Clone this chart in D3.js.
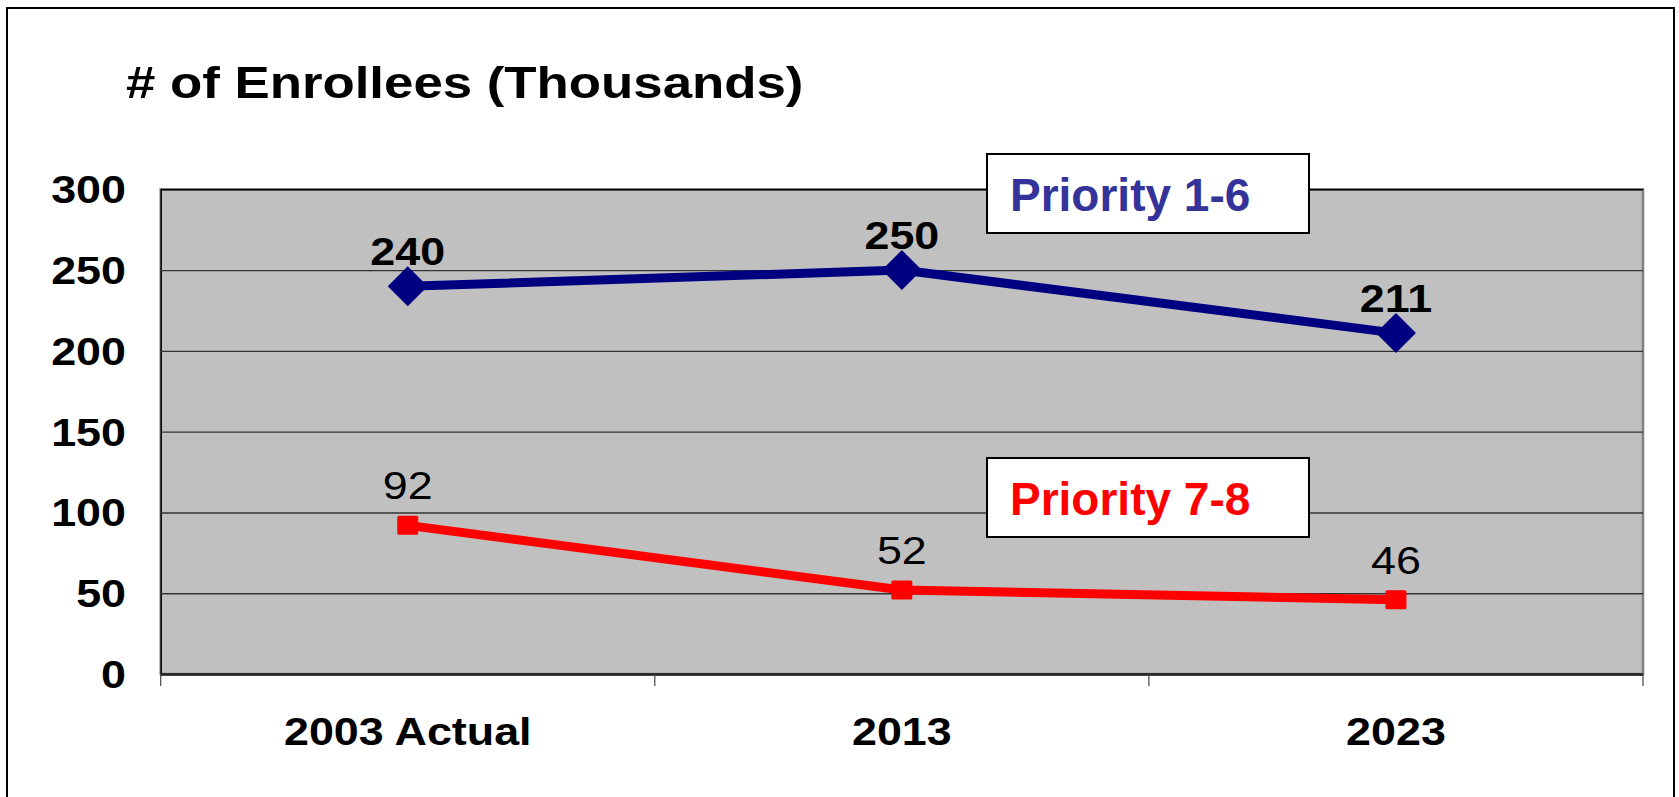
<!DOCTYPE html>
<html>
<head>
<meta charset="utf-8">
<script src="https://cdn.jsdelivr.net/npm/d3@7"></script>
<style>
  html, body { margin: 0; padding: 0; background: #fff; }
  svg { display: block; }
  text { font-family: "Liberation Sans", Arial, sans-serif; }
</style>
</head>
<body>
<div id="chart"></div>
<script>
// values (thousands of enrollees)
const categories = ["2003 Actual", "2013", "2023"];
const priority16 = [240, 250, 211];
const priority78 = [92, 52, 46];
const yTicks = [0, 50, 100, 150, 200, 250, 300];
const seriesNames = ["Priority 1-6", "Priority 7-8"];

const W = 1679, H = 797;
const plot = {left: 160.7, right: 1643, top: 189.3, bottom: 674};
const stretch = 1.15; // the original picture is stretched sideways

const svg = d3.select("#chart").append("svg")
  .attr("width", W)
  .attr("height", H);

// outer frame
svg.append("rect")
  .attr("x", 7).attr("y", 8)
  .attr("width", 1667).attr("height", 820)
  .attr("fill", "#fff")
  .attr("stroke", "#000")
  .attr("stroke-width", 2);

const x = d3.scaleBand().domain(categories).range([plot.left, plot.right]);
const y = d3.scaleLinear().domain([0, 300]).range([plot.bottom, plot.top]);
const cx = d => x(d) + x.bandwidth() / 2;

// plot area
svg.append("rect")
  .attr("x", plot.left).attr("y", plot.top)
  .attr("width", plot.right - plot.left).attr("height", plot.bottom - plot.top)
  .attr("fill", "#c0c0c0")
  .attr("stroke", "#808080")
  .attr("stroke-width", 2.5);

// gridlines + y axis
const yAxis = svg.append("g")
  .attr("transform", "translate(" + plot.left + ",0)")
  .call(d3.axisLeft(y).tickValues(yTicks).tickSize(-(plot.right - plot.left)).tickFormat(""));
yAxis.select(".domain").attr("stroke", "#000").attr("stroke-width", 1.5);
yAxis.selectAll(".tick line")
  .attr("stroke", d => d === 0 ? "#222" : "#333")
  .attr("stroke-width", d => d === 0 ? 2.5 : 1.4)
  .attr("stroke-opacity", d => d === 300 ? 0 : 1);

svg.append("g").selectAll("text")
  .data(yTicks)
  .join("text")
  .attr("transform", d => "translate(126," + y(d) + ") scale(" + stretch + ",1)")
  .attr("dy", "0.36em")
  .attr("text-anchor", "end")
  .attr("font-size", 39)
  .attr("font-weight", "bold")
  .text(d => d);

// x axis ticks between categories
const xTicks = categories.map(c => x(c)).concat([plot.right]);
svg.append("g").selectAll("line")
  .data(xTicks)
  .join("line")
  .attr("x1", d => d).attr("x2", d => d)
  .attr("y1", plot.bottom).attr("y2", plot.bottom + 12)
  .attr("stroke", "#444")
  .attr("stroke-width", 1.2);

svg.append("g").selectAll("text")
  .data(categories)
  .join("text")
  .attr("transform", d => "translate(" + cx(d) + ",745) scale(" + stretch + ",1)")
  .attr("text-anchor", "middle")
  .attr("font-size", 39)
  .attr("font-weight", "bold")
  .text(d => d);

// title
svg.append("text")
  .attr("transform", "translate(126,98) scale(1.2,1)")
  .attr("font-size", 44)
  .attr("font-weight", "bold")
  .text("# of Enrollees (Thousands)");

const line = d3.line()
  .x((d, i) => cx(categories[i]))
  .y(d => y(d));

// Priority 1-6
svg.append("path")
  .datum(priority16)
  .attr("d", line)
  .attr("fill", "none")
  .attr("stroke", "#000080")
  .attr("stroke-width", 9);
svg.append("g").selectAll("path")
  .data(priority16)
  .join("path")
  .attr("transform", (d, i) => "translate(" + cx(categories[i]) + "," + y(d) + ")")
  .attr("d", "M0,-20L20,0L0,20L-20,0Z")
  .attr("fill", "#000080");
svg.append("g").selectAll("text")
  .data(priority16)
  .join("text")
  .attr("transform", (d, i) => "translate(" + cx(categories[i]) + "," + (y(d) - 21) + ") scale(" + stretch + ",1)")
  .attr("text-anchor", "middle")
  .attr("font-size", 39)
  .attr("font-weight", "bold")
  .text(d => d);

// Priority 7-8
svg.append("path")
  .datum(priority78)
  .attr("d", line)
  .attr("fill", "none")
  .attr("stroke", "#ff0000")
  .attr("stroke-width", 9);
svg.append("g").selectAll("rect")
  .data(priority78)
  .join("rect")
  .attr("x", (d, i) => cx(categories[i]) - 10.5)
  .attr("y", d => y(d) - 9.5)
  .attr("width", 21).attr("height", 19)
  .attr("rx", 1.5)
  .attr("fill", "#ff0000");
svg.append("g").selectAll("text")
  .data(priority78)
  .join("text")
  .attr("transform", (d, i) => "translate(" + cx(categories[i]) + "," + (y(d) - 26) + ") scale(" + stretch + ",1)")
  .attr("text-anchor", "middle")
  .attr("font-size", 39)
  .text(d => d);

// series labels in boxes
const boxes = [
  {name: seriesNames[0], top: 154, color: "#333399"},
  {name: seriesNames[1], top: 458, color: "#ff0000"}
];
const lg = svg.append("g").selectAll("g")
  .data(boxes)
  .join("g")
  .attr("transform", d => "translate(987," + d.top + ")");
lg.append("rect")
  .attr("width", 322).attr("height", 79)
  .attr("fill", "#fff")
  .attr("stroke", "#000")
  .attr("stroke-width", 2);
lg.append("text")
  .attr("x", 23).attr("y", 57)
  .attr("font-size", 46)
  .attr("font-weight", "bold")
  .attr("fill", d => d.color)
  .text(d => d.name);
</script>
</body>
</html>
